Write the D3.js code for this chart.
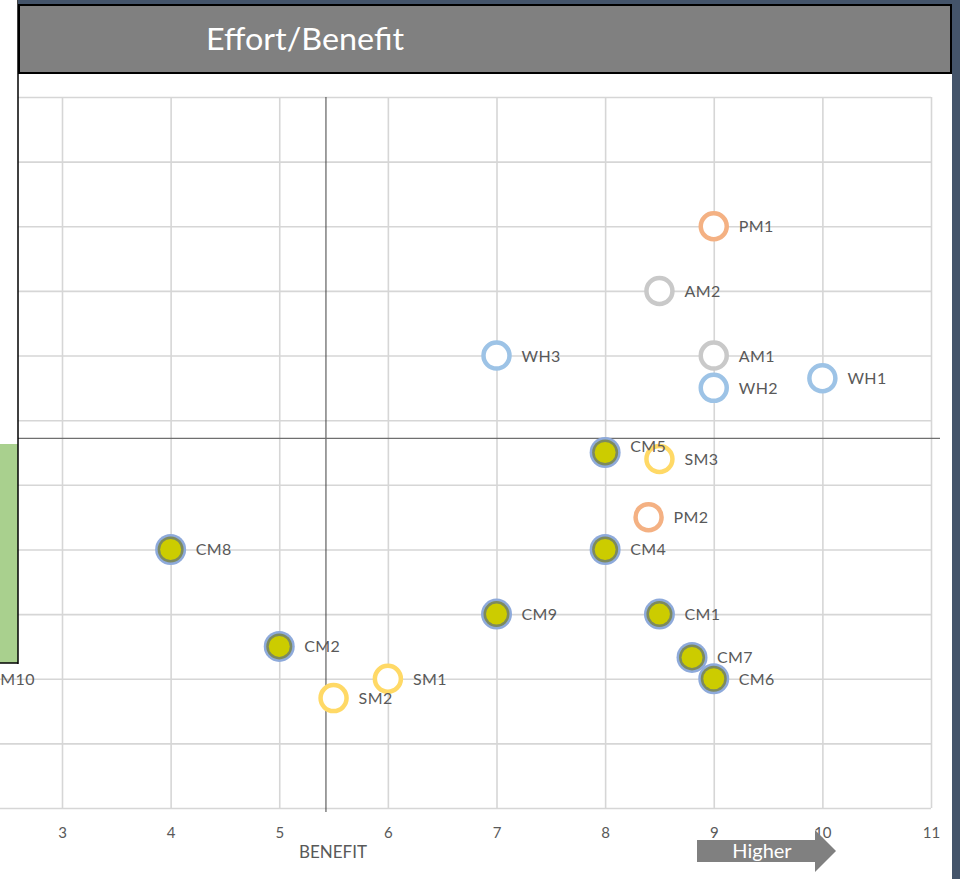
<!DOCTYPE html>
<html>
<head>
<meta charset="utf-8">
<script src="https://cdn.jsdelivr.net/npm/d3@7"></script>
<style>
  html, body { margin: 0; padding: 0; background: #ffffff; }
  svg { display: block; }
</style>
</head>
<body>
<svg id="chart" width="960" height="879"></svg>
<script>
// ---------------- DATA ----------------
const chartTitle = "Effort/Benefit";
const xAxisTitle = "BENEFIT";
const arrowText = "Higher";
const xTickValues = [3, 4, 5, 6, 7, 8, 9, 10, 11];
const gridValues = [0, 1, 2, 3, 4, 5, 6, 7, 8, 9, 10, 11];

const cmLabels = ["CM10", "CM8", "CM2", "CM9", "CM4", "CM5", "CM1", "CM7", "CM6"];
const cmX      = [2.1,    4,     5,     7,     8,     8,     8.5,   8.8,   9];
const cmY      = [2,      4,     2.5,   3,     4,     5.5,   3,     2.33,  2];

const smLabels = ["SM1", "SM2", "SM3"];
const smX      = [6,     5.5,   8.5];
const smY      = [2,     1.7,   5.4];

const pmLabels = ["PM1", "PM2"];
const pmX      = [9,     8.4];
const pmY      = [9,     4.5];

const amLabels = ["AM2", "AM1"];
const amX      = [8.5,   9];
const amY      = [8,     7];

const whLabels = ["WH3", "WH2", "WH1"];
const whX      = [7,     9,     10];
const whY      = [7,     6.5,   6.65];

const crossX = 5.43;   // vertical reference line
const crossY = 5.72;   // horizontal reference line

// ---------------- LAYOUT ----------------
const svg = d3.select("#chart");
const W = 960, H = 879;
const plotTop = 97, plotBottom = 808, plotRight = 931;
const unit = 108.625;

const x = d3.scaleLinear().domain([0, 11]).range([62 - 3 * unit, plotRight]);
const y = d3.scaleLinear().domain([0, 11]).range([plotBottom, plotTop]);

const labelFont = "Lato, 'Open Sans', sans-serif";
const textGrey = "#595959";

// ---------------- GRID ----------------
const grid = svg.append("g");
grid.append("g")
  .attr("transform", `translate(0,${plotBottom})`)
  .call(d3.axisBottom(x).tickValues(gridValues).tickSize(-(plotBottom - plotTop)).tickFormat(""))
  .call(g => g.select(".domain").remove())
  .call(g => g.selectAll("line").attr("stroke", "#d6d6d6").attr("stroke-width", 1.6));
grid.append("g")
  .attr("transform", `translate(${plotRight},0)`)
  .call(d3.axisLeft(y).tickValues(gridValues).tickSize(plotRight - x(0)).tickFormat(""))
  .call(g => g.select(".domain").remove())
  .call(g => g.selectAll("line").attr("stroke", "#d6d6d6").attr("stroke-width", 1.6));

// x tick labels
svg.append("g")
  .attr("transform", `translate(0,${plotBottom + 16})`)
  .call(d3.axisBottom(x).tickValues(xTickValues).tickSize(0).tickFormat(d3.format("d")))
  .call(g => g.select(".domain").remove())
  .call(g => g.selectAll("text")
    .attr("fill", textGrey).attr("font-family", labelFont).attr("font-size", 15));

// reference lines
svg.append("line")
  .attr("x1", x(crossX)).attr("x2", x(crossX))
  .attr("y1", plotTop).attr("y2", plotBottom + 4)
  .attr("stroke", "#404040").attr("stroke-width", 1);
svg.append("line")
  .attr("x1", 18).attr("x2", 940)
  .attr("y1", y(crossY)).attr("y2", y(crossY))
  .attr("stroke", "#6f6f6f").attr("stroke-width", 1.3);

// ---------------- MARKERS ----------------
const zip = (labels, xs, ys) => labels.map((l, i) => ({ label: l, x: xs[i], y: ys[i] }));
const cm = zip(cmLabels, cmX, cmY);
const hollowSeries = [
  { data: zip(smLabels, smX, smY), color: "#ffd966" },
  { data: zip(pmLabels, pmX, pmY), color: "#f4b183" },
  { data: zip(amLabels, amX, amY), color: "#c9c9c9" },
  { data: zip(whLabels, whX, whY), color: "#9dc3e6" }
];

const markers = svg.append("g");
hollowSeries.forEach(s => {
  markers.append("g").selectAll("circle").data(s.data).join("circle")
    .attr("cx", d => x(d.x)).attr("cy", d => y(d.y)).attr("r", 13)
    .attr("fill", "#ffffff").attr("stroke", s.color).attr("stroke-width", 4.5);
});
const cmG = markers.append("g").selectAll("g").data(cm).join("g")
  .attr("transform", d => `translate(${x(d.x)},${y(d.y)})`);
cmG.append("circle").attr("r", 15.5).attr("fill", "#8eaadb");
cmG.append("circle").attr("r", 13).attr("fill", "#7d8a5e");
cmG.append("circle").attr("r", 10.5).attr("fill", "#cccc00");

// labels
const labelNudge = { CM5: -7 };
const allPts = cm.concat(...hollowSeries.map(s => s.data));
svg.append("g").selectAll("text").data(allPts).join("text")
  .attr("x", d => x(d.x) + 25)
  .attr("y", d => y(d.y) + 6 + (labelNudge[d.label] || 0))
  .attr("fill", textGrey).attr("font-family", labelFont).attr("font-size", 16)
  .attr("letter-spacing", 0.4)
  .text(d => d.label);

// axis title
svg.append("text")
  .attr("x", 333).attr("y", 858).attr("text-anchor", "middle")
  .attr("fill", textGrey).attr("font-family", labelFont).attr("font-size", 17)
  .text(xAxisTitle);

// "Higher" arrow
svg.append("path")
  .attr("d", "M697,840 L815,840 L815,830 L836,851 L815,872 L815,862 L697,862 Z")
  .attr("fill", "#808080");
svg.append("text")
  .attr("x", 762).attr("y", 858).attr("text-anchor", "middle")
  .attr("fill", "#ffffff").attr("font-family", labelFont).attr("font-size", 20)
  .text(arrowText);

// ---------------- FRAME ----------------
svg.append("rect").attr("x", 0).attr("y", 0).attr("width", 18).attr("height", 444).attr("fill", "#ffffff");
svg.append("rect").attr("x", 0).attr("y", 444).attr("width", 18).attr("height", 219).attr("fill", "#a9d08e");
svg.append("line").attr("x1", 18).attr("x2", 18).attr("y1", 0).attr("y2", 664)
  .attr("stroke", "#000").attr("stroke-width", 1.5);
svg.append("line").attr("x1", 0).attr("x2", 18).attr("y1", 663).attr("y2", 663)
  .attr("stroke", "#000").attr("stroke-width", 1.5);

svg.append("rect").attr("x", 18).attr("y", 0).attr("width", W - 18).attr("height", 5).attr("fill", "#44546a");
svg.append("rect").attr("x", 952).attr("y", 0).attr("width", 8).attr("height", H).attr("fill", "#44546a");
svg.append("rect").attr("x", 19).attr("y", 5).attr("width", 932).attr("height", 68)
  .attr("fill", "#808080").attr("stroke", "#000").attr("stroke-width", 2);
svg.append("text")
  .attr("x", 305).attr("y", 50).attr("text-anchor", "middle")
  .attr("fill", "#ffffff").attr("font-family", labelFont).attr("font-size", 30)
  .attr("textLength", 198).attr("lengthAdjust", "spacingAndGlyphs")
  .text(chartTitle);
</script>
</body>
</html>
